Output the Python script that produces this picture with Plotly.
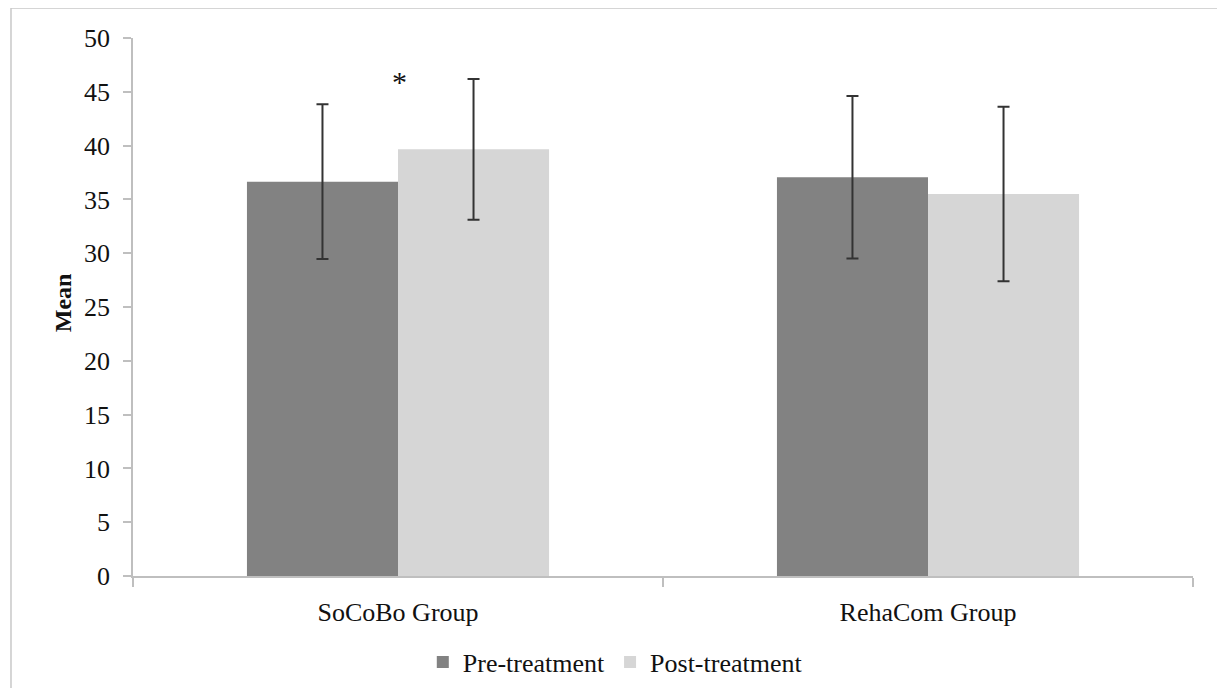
import plotly.graph_objects as go

categories = ["SoCoBo Group", "RehaCom Group"]
pre_values = [36.65, 37.05]
pre_errors = [7.2, 7.55]
post_values = [39.65, 35.5]
post_errors = [6.55, 8.1]
y_ticks = [0, 5, 10, 15, 20, 25, 30, 35, 40, 45, 50]
asterisk_y = 46.0

FONT = "Liberation Serif, Times New Roman, serif"
AXIS_GRAY = "#bfbfbf"

fig = go.Figure()
fig.add_trace(go.Bar(
    name="Pre-treatment", x=categories, y=pre_values,
    marker=dict(color="#828282", line=dict(width=0)),
    error_y=dict(type="data", array=pre_errors, visible=True,
                 color="#333333", thickness=2, width=6),
))
fig.add_trace(go.Bar(
    name="Post-treatment", x=categories, y=post_values,
    marker=dict(color="#d6d6d6", line=dict(width=0)),
    error_y=dict(type="data", array=post_errors, visible=True,
                 color="#333333", thickness=2, width=6),
))

fig.add_annotation(x=categories[0], y=asterisk_y, text="*", showarrow=False,
                   font=dict(family=FONT, size=30, color="#111111"),
                   xanchor="center", yanchor="middle", xshift=1)

fig.add_annotation(xref="paper", yref="paper", x=-0.066, y=0.507,
                   text="<b>Mean</b>", textangle=-90, showarrow=False,
                   font=dict(family=FONT, size=24, color="#111111"),
                   xanchor="center", yanchor="middle")

# outer chart border
fig.add_shape(type="rect", xref="paper", yref="paper",
              x0=-0.1151, x1=1.0274, y0=-0.26, y1=1.0558,
              line=dict(color="#c8c8c8", width=1.5), fillcolor="rgba(0,0,0,0)")

fig.update_layout(
    width=1209, height=680,
    margin=dict(l=125, r=24, t=30, b=112),
    paper_bgcolor="white", plot_bgcolor="white",
    barmode="group", bargap=0.43, bargroupgap=0,
    font=dict(family=FONT, size=26, color="#111111"),
    showlegend=True,
    legend=dict(orientation="h", x=0.455, xanchor="center",
                yref="container", y=0.0382, yanchor="middle",
                font=dict(family=FONT, size=26, color="#111111"),
                itemwidth=30, tracegroupgap=0, bgcolor="rgba(0,0,0,0)"),
    xaxis=dict(showline=True, linecolor=AXIS_GRAY, linewidth=1.5, automargin=False,
               ticks="outside", tickson="boundaries", ticklen=9, tickcolor=AXIS_GRAY,
               tickwidth=1.5, ticklabelstandoff=12,
               tickfont=dict(family=FONT, size=26, color="#111111"),
               showgrid=False, zeroline=False),
    yaxis=dict(range=[0, 50], tickvals=y_ticks, showline=True, linecolor=AXIS_GRAY,
               linewidth=1.5, ticks="outside", ticklen=8, tickcolor=AXIS_GRAY, tickwidth=1.5,
               ticklabelstandoff=8, automargin=False,
               tickfont=dict(family=FONT, size=26, color="#111111"),
               showgrid=False, zeroline=False),
)

fig.write_html("out.html")
